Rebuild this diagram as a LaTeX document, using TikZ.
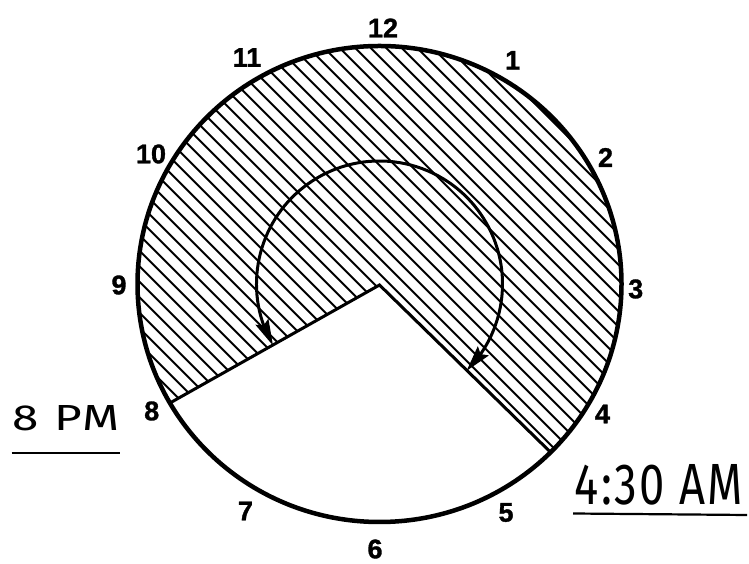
\documentclass[tikz,border=0pt]{standalone}
\usepackage{fontspec}
\setmainfont{Liberation Sans}
\newfontfamily\hourfont{Liberation Sans}[BoldFeatures={FakeBold=1.2}]
\IfFontExistsTF{Fira Sans}{\newfontfamily\thinfont{Fira Sans}[LetterSpace=5]}{\newfontfamily\thinfont{Liberation Sans}}
\usetikzlibrary{arrows.meta,bending}
\begin{document}
\begin{tikzpicture}[x=1pt,y=1pt,
  hour/.style={font=\hourfont\fontsize{27}{27}\selectfont\bfseries, inner sep=0pt},
  hatch/.style={line width=2pt},
  rim/.style={line width=4.5pt},
  edge/.style={line width=3pt},
  uline/.style={line width=2.2pt},
  sweep/.style={line width=3pt,
    {Stealth[length=26pt,width=14pt,inset=4pt,flex]}-{Stealth[length=26pt,width=14pt,inset=4pt,flex]}},
  timelabel/.style={inner sep=0pt}]
\useasboundingbox (0,0) rectangle (749,564);
\coordinate (C) at (379.5,280);
\coordinate (A) at (379.5,279);
\coordinate (P8) at ([shift={(C)}]210:242 and 238);
\coordinate (P4) at ([shift={(C)}]-45:242 and 238);
% hatched sector
\begin{scope}
  \clip (A) -- (P4) arc[start angle=-45,end angle=210,x radius=242,y radius=238] -- cycle;
  \foreach \k in {3.3,18.8,...,1320} \draw[hatch] (\k,0) -- (0,\k);
\end{scope}
% rim and wedge edges
\draw[rim] (C) ellipse[x radius=242,y radius=238];
\draw[edge,line join=miter] (P8) -- (A) -- (P4);
% double arrow arc
\coordinate (S) at ([shift={(C)}]210:123);
\draw[sweep] (S) arc[start angle=210,end angle=-45,radius=123];
% hour numbers
\node[hour] (h12) at (383,536) {12};
\node[hour] (h11) at (247,506.5) {11};
\node[hour] (h1) at (512.7,503.7) {1};
\node[hour] (h10) at (151,410) {10};
\node[hour] (h2) at (605.5,406.5) {2};
\node[hour] (h9) at (119,279) {9};
\node[hour] (h3) at (635.7,275) {3};
\node[hour] (h8) at (151.7,153) {8};
\node[hour] (h4) at (602.5,150) {4};
\node[hour] (h7) at (245.5,53) {7};
\node[hour] (h5) at (506,51.5) {5};
\node[hour] (h6) at (375,15) {6};
% time labels
\node[timelabel] (pm) at (66.4,145.6) {\resizebox{107pt}{25pt}{\thinfont 8 PM}};
\node[timelabel] (am) at (659,79) {\resizebox{168pt}{40pt}{\thinfont 4:30 AM}};
\draw[uline] (11.7,111.3) -- (120,111.3);
\draw[uline] (573,50.5) -- (747,49);
\end{tikzpicture}
\end{document}
